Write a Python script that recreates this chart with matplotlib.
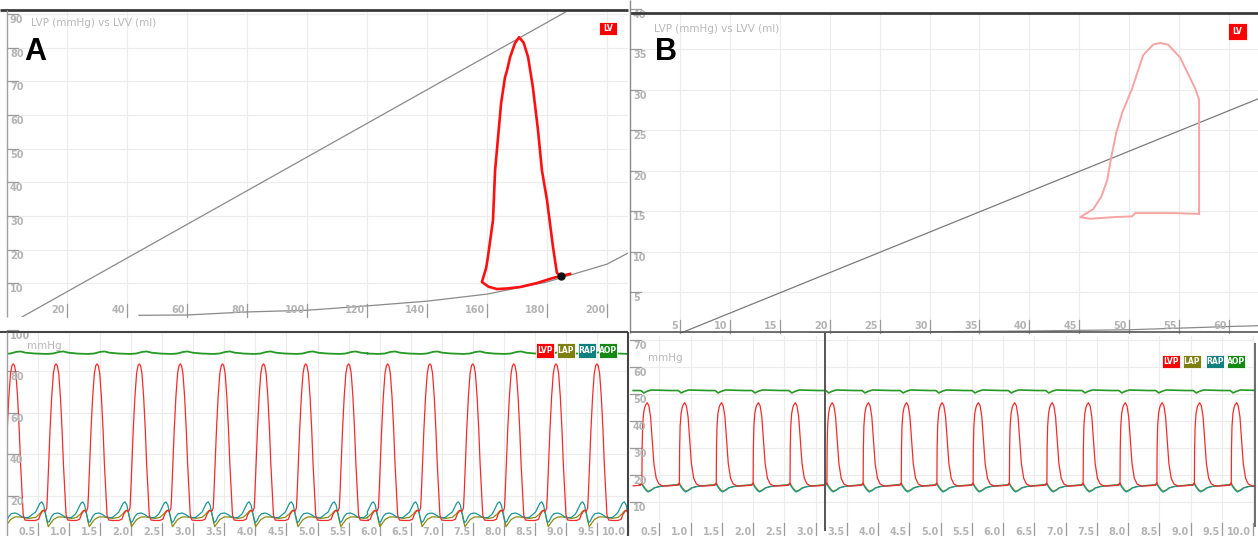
import numpy as np
import matplotlib
matplotlib.use("Agg")
import matplotlib.pyplot as plt
from matplotlib.lines import Line2D
from matplotlib.patches import Rectangle

W, H = 1258, 536
FONT = ["Liberation Sans Narrow", "DejaVu Sans"]
TICK_C = "#b4b4b4"
GRID_C = "#ececec"

# ---- panel A : PV loop (baseline)
espvr_a_v = [5, 187]
espvr_a_p = [0, 91]
edpvr_a_v = [44, 60, 80, 100, 120, 140, 160, 180, 200, 207]
edpvr_a_p = [0.5, 0.6, 1.5, 2.0, 3.3, 4.7, 6.8, 10.4, 15.7, 19.0]
loop_a_v = [184.7, 183.3, 182.0, 180.0, 178.3, 177.0, 175.3, 173.7, 172.2, 170.7,
            169.3, 167.7, 166.7, 166.0, 164.7, 162.7, 162.0, 160.3, 159.7, 158.3,
            160.5, 163.3, 167.0, 171.0, 176.7, 182.0, 184.7, 187.7]
loop_a_p = [12.2, 13.1, 20.8, 34.7, 43.6, 55.5, 68.2, 77.2, 81.5, 83.1,
            81.3, 77.2, 73.3, 71.2, 63.5, 43.6, 28.8, 17.8, 14.5, 10.4,
            9.0, 8.3, 8.5, 8.9, 10.1, 11.6, 12.2, 12.8]
ed_point_a = (184.7, 12.2)
xticks_a = [20, 40, 60, 80, 100, 120, 140, 160, 180, 200]
yticks_a = [10, 20, 30, 40, 50, 60, 70, 80, 90]

# ---- panel B : PV loop
espvr_b_v = [5.1, 62.9]
espvr_b_p = [0, 28.9]
edpvr_b_v = [18, 30, 40, 50, 55, 60, 62.9]
edpvr_b_p = [0.0, 0.15, 0.25, 0.4, 0.6, 0.8, 0.9]
loop_b_v = [57.0, 57.0, 56.6, 55.1, 53.9, 53.1, 52.4, 51.4, 50.3, 49.3, 48.7,
            48.2, 47.8, 47.2, 46.4, 45.1, 46.1, 48.4, 50.3, 50.6, 54.4, 57.0]
loop_b_p = [14.7, 28.8, 30.2, 34.0, 35.6, 35.8, 35.6, 34.3, 30.2, 27.2, 24.7,
            21.7, 18.9, 16.8, 15.3, 14.3, 14.1, 14.3, 14.4, 14.8, 14.8, 14.7]
xticks_b = [5, 10, 15, 20, 25, 30, 35, 40, 45, 50, 55, 60]
yticks_b = [5, 10, 15, 20, 25, 30, 35, 40]

# ---- bottom left : pressure traces A (one beat template, offsets from LVP peak)
peaks_a = [0.1, 0.79, 1.45, 2.13, 2.79, 3.47, 4.13, 4.81, 5.5, 6.13, 6.81,
           7.5, 8.16, 8.84, 9.5, 10.17]
lvp_a_dt = [-0.33, -0.28, -0.25, -0.21, -0.17, -0.15, -0.14, -0.118, -0.097, -0.07,
            -0.043, -0.02, 0.0, 0.02, 0.043, 0.07, 0.097, 0.118, 0.145, 0.161,
            0.188, 0.25, 0.31]
lvp_a_p = [8.0, 8.6, 11.0, 12.8, 12.5, 14.0, 19.5, 35.6, 51.7, 67.8,
           79.0, 82.8, 83.6, 82.8, 79.0, 67.8, 51.7, 35.6, 19.5, 10.6,
           8.2, 8.0, 8.0]
rap_a_dt = [-0.33, -0.29, -0.26, -0.23, -0.20, -0.17, -0.135, -0.11, -0.07, -0.03,
            0.03, 0.08, 0.14, 0.20, 0.25, 0.31]
rap_a_p = [12.0, 14.5, 16.3, 17.0, 15.5, 11.0, 7.0, 7.5, 10.0, 11.3,
           11.6, 11.0, 9.8, 9.3, 9.5, 11.0]
lap_a_dt = [-0.33, -0.27, -0.23, -0.20, -0.17, -0.15, -0.125, -0.09, -0.04, 0.03,
            0.10, 0.20, 0.25, 0.31]
lap_a_p = [9.5, 11.0, 12.5, 13.0, 11.5, 8.0, 5.0, 6.5, 8.5, 9.7,
           9.7, 9.2, 9.0, 9.3]
aop_a_dt = [-0.33, -0.15, -0.05, 0.05, 0.12, 0.20, 0.31]
aop_a_p = [88.6, 88.4, 88.6, 89.4, 89.6, 89.0, 88.7]
yticks_la = [20, 40, 60, 80, 100]

# ---- bottom right : pressure traces B (offsets from LVP upstroke)
onsets_b = [-0.37, 0.22, 0.82, 1.41, 2.0, 2.59, 3.18, 3.76, 4.37, 4.94, 5.52,
            6.10, 6.70, 7.28, 7.87, 8.46, 9.06, 9.65]
lvp_b_dt = [-0.02, -0.006, 0.0, 0.004, 0.012, 0.027, 0.045, 0.059, 0.085, 0.112,
            0.139, 0.165, 0.192, 0.229, 0.272, 0.336, 0.45, 0.55]
lvp_b_p = [16.2, 16.9, 16.5, 30.0, 38.0, 42.8, 45.0, 45.9, 46.8, 45.6,
           41.6, 33.0, 24.3, 18.8, 16.7, 15.9, 16.0, 16.2]
atr_b_dt = [-0.02, 0.0, 0.03, 0.07, 0.10, 0.15, 0.20, 0.28, 0.40, 0.55]
rap_b_p = [16.4, 16.6, 15.4, 14.2, 13.7, 14.3, 15.2, 15.7, 16.0, 16.3]
lap_b_p = [16.6, 17.0, 15.8, 14.6, 14.0, 14.5, 15.3, 15.8, 16.1, 16.4]
aop_b_dt = [-0.02, 0.0, 0.03, 0.08, 0.15, 0.30, 0.45, 0.55]
aop_b_p = [51.3, 51.0, 50.4, 51.0, 51.5, 51.4, 51.3, 51.3]
yticks_lb = [10, 20, 30, 40, 50, 60, 70]
xticks_t = [0.5, 1.0, 1.5, 2.0, 2.5, 3.0, 3.5, 4.0, 4.5, 5.0,
            5.5, 6.0, 6.5, 7.0, 7.5, 8.0, 8.5, 9.0, 9.5, 10.0]

legend_names = ["LVP", "LAP", "RAP", "AOP"]
trace_colors = {"LVP": "#f52a2a", "LAP": "#8c8c12", "RAP": "#1c9696", "AOP": "#249a24"}
badge_colors = {"LVP": "#ff0000", "LAP": "#7f7f10", "RAP": "#0f8080", "AOP": "#148a14"}


def tile(starts, dt, p):
    xs, ys = [], []
    for s in starts:
        xs.extend(s + np.array(dt))
        ys.extend(p)
    return np.array(xs), np.array(ys)


fig = plt.figure(figsize=(W / 100, H / 100), dpi=100)


def px_axes(x0, y0, x1, y1):
    ax = fig.add_axes([x0 / W, 1 - y1 / H, (x1 - x0) / W, (y1 - y0) / H])
    for s in ax.spines.values():
        s.set_visible(False)
    ax.set_xticks([])
    ax.set_yticks([])
    return ax


def fline(x0, y0, x1, y1, color, lw):
    fig.add_artist(Line2D([x0 / W, x1 / W], [1 - y0 / H, 1 - y1 / H],
                          transform=fig.transFigure, color=color, lw=lw,
                          solid_capstyle="butt"))


def ticks(ax, xt, yt, xfmt, w_px, h_px, yoff=-6, xoff=7):
    for v in yt:
        ax.axhline(v, color=GRID_C, lw=0.8, zorder=0)
        ax.plot([0, 11 / w_px], [v, v], transform=ax.get_yaxis_transform(),
                color="#9a9a9a", lw=0.9, clip_on=False, zorder=1)
        ax.annotate(str(v), xy=(0, v), xycoords=ax.get_yaxis_transform(),
                    xytext=(3, yoff), textcoords="offset pixels", fontsize=7,
                    family=FONT, fontweight="bold", color=TICK_C,
                    ha="left", va="center", annotation_clip=False)
    for v in xt:
        ax.axvline(v, color=GRID_C, lw=0.8, zorder=0)
        ax.plot([v, v], [0, 13 / h_px], transform=ax.get_xaxis_transform(),
                color="#9a9a9a", lw=0.9, clip_on=False, zorder=1)
        ax.annotate(xfmt(v), xy=(v, 0), xycoords=ax.get_xaxis_transform(),
                    xytext=(-2, xoff), textcoords="offset pixels", fontsize=7,
                    family=FONT, fontweight="bold", color=TICK_C,
                    ha="right", va="center", annotation_clip=False)


def badge(x0, y0, x1, y1, text, color):
    fig.add_artist(Rectangle((x0 / W, 1 - y1 / H), (x1 - x0) / W, (y1 - y0) / H,
                             transform=fig.transFigure, facecolor=color,
                             edgecolor="white", lw=0.6))
    fig.text((x0 + x1) / 2 / W, 1 - (y0 + y1) / 2 / H, text, color="white",
             fontsize=5.5, fontweight="bold", family=FONT, ha="center", va="center")


# ---------- panel A
axA = px_axes(7, 12, 628, 317)
axA.set_xlim(0, 207)
axA.set_ylim(0, 90.6)
ticks(axA, xticks_a, yticks_a, lambda v: str(v), 621, 305)
axA.plot(espvr_a_v, espvr_a_p, color="#8a8a8a", lw=0.9)
axA.plot(edpvr_a_v, edpvr_a_p, color="#8a8a8a", lw=0.9)
axA.plot(loop_a_v, loop_a_p, color="#ff1010", lw=1.9, solid_joinstyle="round")
axA.plot(*ed_point_a, "o", color="#111111", ms=5)
fline(0, 10, 628, 10, "#3a3a3a", 2.0)
fline(7, 10, 7, 317, "#a0a0a0", 1.0)
fig.text(31 / W, 1 - 23 / H, "LVP (mmHg) vs LVV (ml)", fontsize=7.5, family=FONT,
         color="#b8b8b8", ha="left", va="center")
fig.text(24 / W, 1 - 52 / H, "A", fontsize=22, fontweight="bold", color="black",
         ha="left", va="center", family="Liberation Sans")
badge(599, 22, 617, 35, "LV", "#ff0000")

# ---------- panel B
axB = px_axes(630, 13, 1258, 333)
axB.set_xlim(0, 62.9)
axB.set_ylim(0, 39.5)
ticks(axB, xticks_b, yticks_b, lambda v: str(v), 628, 320)
axB.plot(espvr_b_v, espvr_b_p, color="#7a7a7a", lw=0.9)
axB.plot(edpvr_b_v, edpvr_b_p, color="#8a8a8a", lw=0.9)
axB.plot(loop_b_v, loop_b_p, color="#f6a3a3", lw=1.4, solid_joinstyle="round")
fline(630, 13, 1258, 13, "#3a3a3a", 2.0)
fline(630, 0, 630, 333, "#8a8a8a", 1.0)
fline(630, 332, 1258, 332, "#555555", 1.2)
fig.text(654 / W, 1 - 29 / H, "LVP (mmHg) vs LVV (ml)", fontsize=7.5, family=FONT,
         color="#b8b8b8", ha="left", va="center")
fig.text(655 / W, 1 - 52 / H, "B", fontsize=22, fontweight="bold", color="black",
         ha="left", va="center", family="Liberation Sans")
badge(1228, 23, 1247, 40, "LV", "#ff0000")

# ---------- bottom left traces
axC = px_axes(7, 332, 628, 536)
axC.set_xlim(0, 10.0)
axC.set_ylim(0.5, 99.0)
ticks(axC, xticks_t, yticks_la, lambda v: f"{v:.1f}", 621, 204, xoff=4)
for name, dt, p in [("LAP", lap_a_dt, lap_a_p), ("RAP", rap_a_dt, rap_a_p),
                    ("LVP", lvp_a_dt, lvp_a_p), ("AOP", aop_a_dt, aop_a_p)]:
    x, y = tile(peaks_a, dt, p)
    axC.plot(x, y, color=trace_colors[name], lw=0.9 if name != "AOP" else 1.3)
fline(0, 332, 628, 332, "#444444", 1.5)
fline(628, 332, 628, 536, "#444444", 1.5)
fline(7, 332, 7, 536, "#a0a0a0", 1.0)
fig.text(44 / W, 1 - 346 / H, "mmHg", fontsize=7.5, family=FONT, color="#b8b8b8",
         ha="center", va="center")
for name, x0 in zip(legend_names, [536, 557, 578, 599]):
    badge(x0, 343, x0 + 18, 358, name, badge_colors[name])

# ---------- bottom right traces
axD = px_axes(630, 336, 1255, 536)
axD.set_xlim(0.03, 10.03)
axD.set_ylim(-2.6, 71.5)
ticks(axD, xticks_t, yticks_lb, lambda v: f"{v:.1f}", 625, 200, xoff=4)
for name, dt, p in [("LAP", atr_b_dt, lap_b_p), ("RAP", atr_b_dt, rap_b_p),
                    ("LVP", lvp_b_dt, lvp_b_p), ("AOP", aop_b_dt, aop_b_p)]:
    x, y = tile(onsets_b, dt, p)
    keep = x >= 0.06
    axD.plot(x[keep], y[keep], color=trace_colors[name],
             lw=0.9 if name != "AOP" else 1.2)
fline(825, 333, 825, 531, "#555555", 1.4)
fline(1255, 343, 1255, 527, "#555555", 1.2)
fig.text(665 / W, 1 - 358 / H, "mmHg", fontsize=7.5, family=FONT, color="#b8b8b8",
         ha="center", va="center")
for name, x0 in zip(legend_names, [1162, 1183, 1206, 1227]):
    badge(x0, 355, x0 + 18, 368, name, badge_colors[name])

fig.savefig("out.png", dpi=100, facecolor="white")
